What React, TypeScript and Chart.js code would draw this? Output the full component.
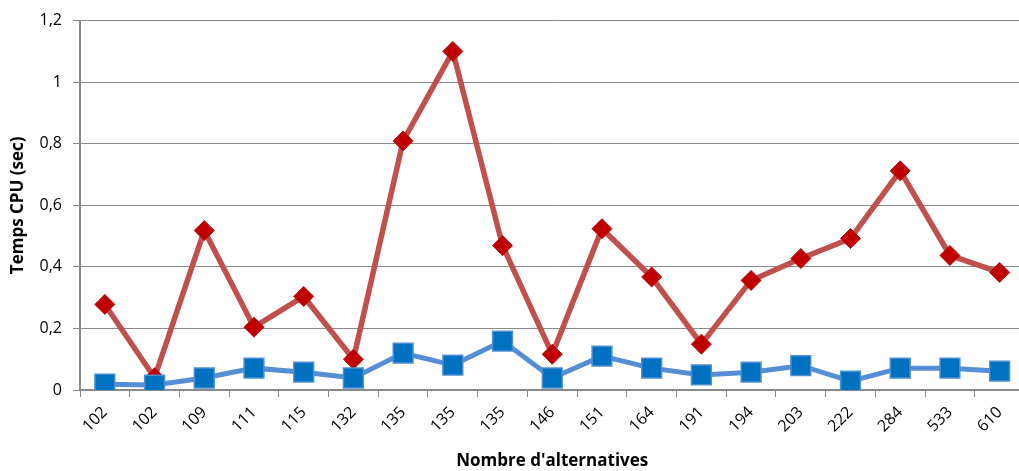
import React, { useEffect, useRef } from "react";
import { Chart, registerables } from "chart.js";

Chart.register(...registerables);

const categories = ["102", "102", "109", "111", "115", "132", "135", "135", "135", "146", "151", "164", "191", "194", "203", "222", "284", "533", "610"];
const redSeries = [0.278, 0.04, 0.518, 0.204, 0.304, 0.1, 0.809, 1.1, 0.469, 0.116, 0.524, 0.367, 0.149, 0.356, 0.427, 0.492, 0.712, 0.437, 0.382];
const blueSeries = [0.019, 0.016, 0.039, 0.071, 0.058, 0.039, 0.12, 0.081, 0.159, 0.039, 0.11, 0.071, 0.049, 0.058, 0.079, 0.029, 0.071, 0.071, 0.061];
const yTitle = "Temps CPU (sec)";
const xTitle = "Nombre d'alternatives";

const FONT = "'Open Sans', 'DejaVu Sans', sans-serif";
const GRID = "#8a8a8a";

export default function App() {
  const ref = useRef<HTMLCanvasElement | null>(null);
  useEffect(() => {
    if (!ref.current) return;
    const chart = new Chart(ref.current, {
      type: "line",
      data: {
        labels: categories,
        datasets: [
          {
            label: "blue",
            data: blueSeries,
            borderColor: "#558ED5",
            borderWidth: 5,
            pointStyle: "rect",
            pointRadius: 14,
            pointBackgroundColor: "#0070C0",
            pointBorderColor: "#4F8FD0",
            pointBorderWidth: 1.5,
            tension: 0,
          },
          {
            label: "red",
            data: redSeries,
            borderColor: "#C0504D",
            borderWidth: 5.5,
            pointStyle: "rectRot",
            pointRadius: 10,
            pointBackgroundColor: "#C00000",
            pointBorderColor: "#B01010",
            pointBorderWidth: 1,
            tension: 0,
          },
        ],
      },
      options: {
        animation: false,
        responsive: false,
        maintainAspectRatio: false,
        layout: { padding: { top: 19, right: 8, left: 0, bottom: 0 } },
        plugins: { legend: { display: false }, tooltip: { enabled: false } },
        scales: {
          x: {
            offset: true,
            grid: {
              offset: true,
              drawOnChartArea: false,
              drawTicks: true,
              tickLength: 7,
              color: GRID,
            },
            border: { color: GRID, width: 2 },
            ticks: {
              maxRotation: 45,
              minRotation: 45,
              autoSkip: false,
              color: "#000",
              font: { family: FONT, size: 16 },
              padding: 6,
            },
            title: {
              display: true,
              text: xTitle,
              color: "#000",
              font: { family: FONT, size: 17, weight: "bold" },
              padding: { top: 0, bottom: 0 },
            },
            afterFit: (s: any) => {
              s.height = 81;
            },
          },
          y: {
            min: 0,
            max: 1.2,
            ticks: {
              stepSize: 0.2,
              color: "#000",
              font: { family: FONT, size: 16 },
              padding: 11,
              callback: (v: any) => String(Math.round(Number(v) * 10) / 10).replace(".", ","),
            },
            grid: { color: GRID, lineWidth: 1, tickLength: 7 },
            border: { color: GRID, width: 2 },
            title: {
              display: true,
              text: yTitle,
              color: "#000",
              font: { family: FONT, size: 17, weight: "bold" },
              padding: { top: 8, bottom: 0 },
            },
            afterFit: (s: any) => {
              s.width = 80;
            },
          },
        },
      },
    });
    return () => chart.destroy();
  }, []);
  return (
    <div style={{ position: "fixed", left: 0, top: 0, width: 1019, height: 471, overflow: "hidden", background: "#fff" }}>
      <canvas ref={ref} width={1040} height={471} style={{ width: 1040, height: 471, display: "block" }} />
    </div>
  );
}
